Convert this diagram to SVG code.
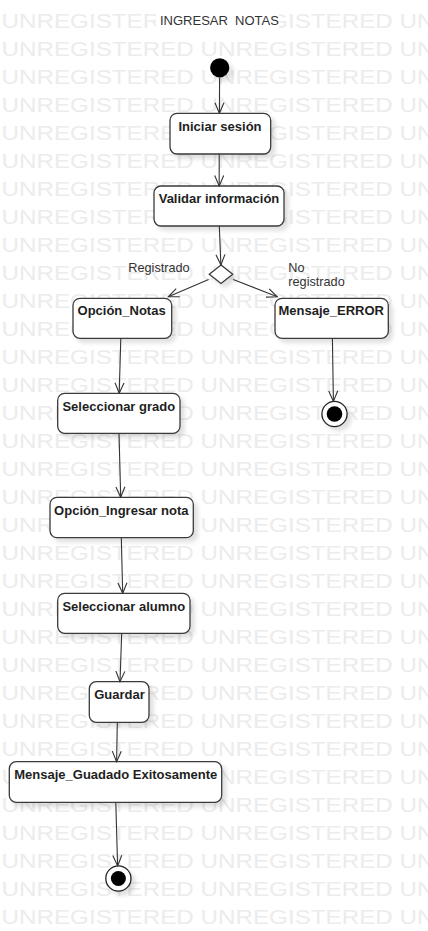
<svg xmlns="http://www.w3.org/2000/svg" width="428" height="931" viewBox="0 0 428 931">
<style>
.wm{font-family:"Liberation Sans",Arial,sans-serif;font-size:19.5px;fill:#ececec}
.box{fill:#fff;stroke:#3a3a3a;stroke-width:1.3}
.lbl{font-family:"Liberation Sans",Arial,sans-serif;font-size:13px;font-weight:bold;fill:#1e1e1e;text-anchor:middle}
.txt{font-family:"Liberation Sans",Arial,sans-serif;font-size:12.7px;fill:#333}
.ttl{font-family:"Liberation Sans",Arial,sans-serif;font-size:13px;fill:#333;white-space:pre}
.edge{fill:none;stroke:#333;stroke-width:1.1;marker-end:url(#arr)}
</style>
<defs>
<marker id="arr" viewBox="0 0 12 12" refX="11" refY="6" markerWidth="12" markerHeight="12" markerUnits="userSpaceOnUse" orient="auto">
<path d="M0.5,1.5 L11,6 L0.5,10.5" fill="none" stroke="#333" stroke-width="1.1"/>
</marker>
<filter id="sh" x="-20%" y="-20%" width="150%" height="170%">
<feDropShadow dx="4" dy="4" stdDeviation="2" flood-color="#000" flood-opacity="0.12"/>
</filter>
</defs>
<rect width="428" height="931" fill="#fff"/>
<g id="watermark">
<text class="wm" x="1.5" y="27.6" textLength="433" lengthAdjust="spacingAndGlyphs">UNREGISTERED UNREGISTERED UN</text>
<text class="wm" x="1.5" y="55.6" textLength="433" lengthAdjust="spacingAndGlyphs">UNREGISTERED UNREGISTERED UN</text>
<text class="wm" x="1.5" y="83.6" textLength="433" lengthAdjust="spacingAndGlyphs">UNREGISTERED UNREGISTERED UN</text>
<text class="wm" x="1.5" y="111.6" textLength="433" lengthAdjust="spacingAndGlyphs">UNREGISTERED UNREGISTERED UN</text>
<text class="wm" x="1.5" y="139.6" textLength="433" lengthAdjust="spacingAndGlyphs">UNREGISTERED UNREGISTERED UN</text>
<text class="wm" x="1.5" y="167.6" textLength="433" lengthAdjust="spacingAndGlyphs">UNREGISTERED UNREGISTERED UN</text>
<text class="wm" x="1.5" y="195.6" textLength="433" lengthAdjust="spacingAndGlyphs">UNREGISTERED UNREGISTERED UN</text>
<text class="wm" x="1.5" y="223.6" textLength="433" lengthAdjust="spacingAndGlyphs">UNREGISTERED UNREGISTERED UN</text>
<text class="wm" x="1.5" y="251.6" textLength="433" lengthAdjust="spacingAndGlyphs">UNREGISTERED UNREGISTERED UN</text>
<text class="wm" x="1.5" y="279.6" textLength="433" lengthAdjust="spacingAndGlyphs">UNREGISTERED UNREGISTERED UN</text>
<text class="wm" x="1.5" y="307.6" textLength="433" lengthAdjust="spacingAndGlyphs">UNREGISTERED UNREGISTERED UN</text>
<text class="wm" x="1.5" y="335.6" textLength="433" lengthAdjust="spacingAndGlyphs">UNREGISTERED UNREGISTERED UN</text>
<text class="wm" x="1.5" y="363.6" textLength="433" lengthAdjust="spacingAndGlyphs">UNREGISTERED UNREGISTERED UN</text>
<text class="wm" x="1.5" y="391.6" textLength="433" lengthAdjust="spacingAndGlyphs">UNREGISTERED UNREGISTERED UN</text>
<text class="wm" x="1.5" y="419.6" textLength="433" lengthAdjust="spacingAndGlyphs">UNREGISTERED UNREGISTERED UN</text>
<text class="wm" x="1.5" y="447.6" textLength="433" lengthAdjust="spacingAndGlyphs">UNREGISTERED UNREGISTERED UN</text>
<text class="wm" x="1.5" y="475.6" textLength="433" lengthAdjust="spacingAndGlyphs">UNREGISTERED UNREGISTERED UN</text>
<text class="wm" x="1.5" y="503.6" textLength="433" lengthAdjust="spacingAndGlyphs">UNREGISTERED UNREGISTERED UN</text>
<text class="wm" x="1.5" y="531.6" textLength="433" lengthAdjust="spacingAndGlyphs">UNREGISTERED UNREGISTERED UN</text>
<text class="wm" x="1.5" y="559.6" textLength="433" lengthAdjust="spacingAndGlyphs">UNREGISTERED UNREGISTERED UN</text>
<text class="wm" x="1.5" y="587.6" textLength="433" lengthAdjust="spacingAndGlyphs">UNREGISTERED UNREGISTERED UN</text>
<text class="wm" x="1.5" y="615.6" textLength="433" lengthAdjust="spacingAndGlyphs">UNREGISTERED UNREGISTERED UN</text>
<text class="wm" x="1.5" y="643.6" textLength="433" lengthAdjust="spacingAndGlyphs">UNREGISTERED UNREGISTERED UN</text>
<text class="wm" x="1.5" y="671.6" textLength="433" lengthAdjust="spacingAndGlyphs">UNREGISTERED UNREGISTERED UN</text>
<text class="wm" x="1.5" y="699.6" textLength="433" lengthAdjust="spacingAndGlyphs">UNREGISTERED UNREGISTERED UN</text>
<text class="wm" x="1.5" y="727.6" textLength="433" lengthAdjust="spacingAndGlyphs">UNREGISTERED UNREGISTERED UN</text>
<text class="wm" x="1.5" y="755.6" textLength="433" lengthAdjust="spacingAndGlyphs">UNREGISTERED UNREGISTERED UN</text>
<text class="wm" x="1.5" y="783.6" textLength="433" lengthAdjust="spacingAndGlyphs">UNREGISTERED UNREGISTERED UN</text>
<text class="wm" x="1.5" y="811.6" textLength="433" lengthAdjust="spacingAndGlyphs">UNREGISTERED UNREGISTERED UN</text>
<text class="wm" x="1.5" y="839.6" textLength="433" lengthAdjust="spacingAndGlyphs">UNREGISTERED UNREGISTERED UN</text>
<text class="wm" x="1.5" y="867.6" textLength="433" lengthAdjust="spacingAndGlyphs">UNREGISTERED UNREGISTERED UN</text>
<text class="wm" x="1.5" y="895.6" textLength="433" lengthAdjust="spacingAndGlyphs">UNREGISTERED UNREGISTERED UN</text>
<text class="wm" x="1.5" y="923.6" textLength="433" lengthAdjust="spacingAndGlyphs">UNREGISTERED UNREGISTERED UN</text>
</g>
<g id="title">
<rect x="156" y="9" width="123" height="22" fill="#fff"/>
<text class="ttl" x="160" y="25">INGRESAR  NOTAS</text>
</g>
<g id="start">
<circle cx="219.7" cy="67.8" r="9.6" fill="#000" filter="url(#sh)"/>
</g>
<g id="iniciar_sesion">
<rect class="box" x="170" y="113.3" width="100.7" height="40.7" rx="7" filter="url(#sh)"/>
<text class="lbl" x="220" y="130.7">Iniciar sesión</text>
</g>
<g id="validar_informacion">
<rect class="box" x="154" y="186" width="130" height="40" rx="7" filter="url(#sh)"/>
<text class="lbl" x="219" y="202.7">Validar información</text>
</g>
<g id="decision">
<path class="box" d="M221,265 L232.7,274.2 L221,283.4 L209.3,274.2 Z" filter="url(#sh)"/>
</g>
<g id="opcion_notas">
<rect class="box" x="73" y="298.3" width="98.7" height="40" rx="7" filter="url(#sh)"/>
<text class="lbl" x="121.6" y="315">Opción_Notas</text>
</g>
<g id="mensaje_error">
<rect class="box" x="275" y="298.3" width="113.3" height="40" rx="7" filter="url(#sh)"/>
<text class="lbl" x="331.2" y="315">Mensaje_ERROR</text>
</g>
<g id="final_error">
<circle cx="334.5" cy="414" r="12.6" fill="#fff" stroke="#222" stroke-width="1.3" filter="url(#sh)"/>
<circle cx="334.5" cy="414" r="7.8" fill="#000"/>
</g>
<g id="seleccionar_grado">
<rect class="box" x="57.7" y="393.3" width="122.3" height="40" rx="7" filter="url(#sh)"/>
<text class="lbl" x="118.8" y="410.7">Seleccionar grado</text>
</g>
<g id="opcion_ingresar_nota">
<rect class="box" x="50" y="497.3" width="143.3" height="40.4" rx="7" filter="url(#sh)"/>
<text class="lbl" x="121.3" y="515">Opción_Ingresar nota</text>
</g>
<g id="seleccionar_alumno">
<rect class="box" x="57.7" y="593.3" width="132.3" height="40" rx="7" filter="url(#sh)"/>
<text class="lbl" x="123.8" y="610.7">Seleccionar alumno</text>
</g>
<g id="guardar">
<rect class="box" x="89.3" y="681.7" width="59.7" height="40.6" rx="7" filter="url(#sh)"/>
<text class="lbl" x="119.5" y="699.3">Guardar</text>
</g>
<g id="mensaje_guardado">
<rect class="box" x="9.3" y="761.7" width="212.4" height="40.6" rx="7" filter="url(#sh)"/>
<text class="lbl" x="115.8" y="779">Mensaje_Guadado Exitosamente</text>
</g>
<g id="final_main">
<circle cx="118.4" cy="878.5" r="12.6" fill="#fff" stroke="#222" stroke-width="1.3" filter="url(#sh)"/>
<circle cx="118.4" cy="878.5" r="7.5" fill="#000"/>
</g>
<g id="connectors">
<line class="edge" x1="219.6" y1="77.4" x2="219.4" y2="113.3"/>
<line class="edge" x1="219.2" y1="154" x2="219.2" y2="186"/>
<line class="edge" x1="219.3" y1="226" x2="220.9" y2="265"/>
<line class="edge" x1="208.6" y1="279.5" x2="168.3" y2="296.8"/>
<line class="edge" x1="233.2" y1="279.5" x2="277.3" y2="296.8"/>
<line class="edge" x1="332.4" y1="338.3" x2="333.4" y2="401.4"/>
<line class="edge" x1="120.8" y1="338.3" x2="119.2" y2="393.3"/>
<line class="edge" x1="119" y1="433.3" x2="120.7" y2="497.3"/>
<line class="edge" x1="121.3" y1="537.7" x2="122.7" y2="593.3"/>
<line class="edge" x1="121.7" y1="633.3" x2="120" y2="681.7"/>
<line class="edge" x1="117.3" y1="722.3" x2="116.6" y2="761.7"/>
<line class="edge" x1="115.8" y1="802.3" x2="117.6" y2="865.9"/>
</g>
<g id="guard_labels">
<text class="txt" x="128.3" y="272.3">Registrado</text>
<text class="txt" x="288.3" y="272.3">No</text>
<text class="txt" x="288.3" y="285.7">registrado</text>
</g>
</svg>
